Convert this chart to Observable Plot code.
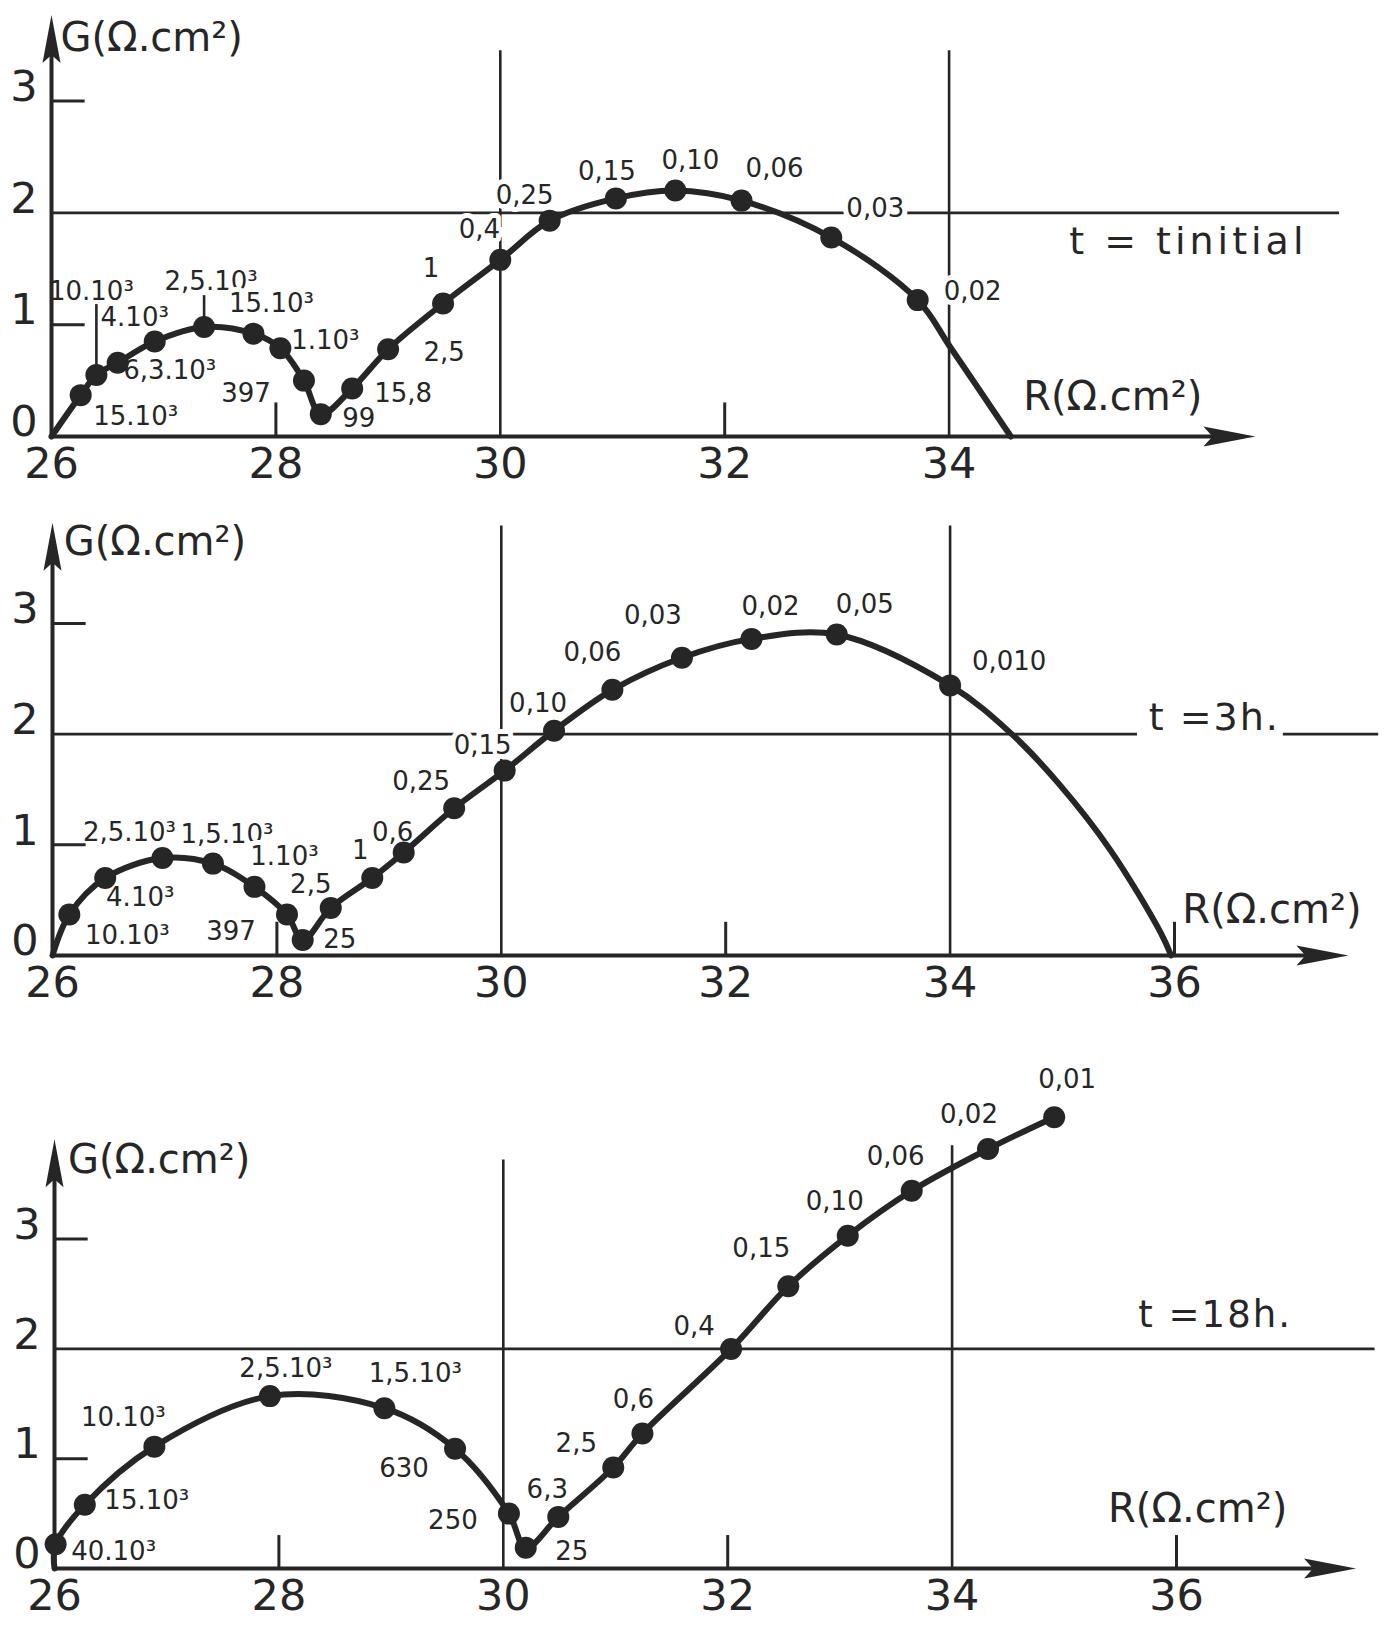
<!DOCTYPE html>
<html><head><meta charset="utf-8">
<script src="https://cdn.jsdelivr.net/npm/d3@7"></script>
<script src="https://cdn.jsdelivr.net/npm/@observablehq/plot@0.6"></script>
<style>
body{margin:0;background:#fff;}
#chart{width:1400px;}
#chart svg{display:block;}
</style></head><body><div id="chart"></div>
<script>
// ================= DATA =================
// Panel 1 : t = t initial
const p1R = [26.26, 26.40, 26.59, 26.92, 27.36, 27.80, 28.04, 28.25, 28.40, 28.68, 29.00, 29.49, 30.00, 30.44, 31.03, 31.56, 32.15, 32.95, 33.72];
const p1G = [0.37, 0.55, 0.66, 0.85, 0.98, 0.92, 0.79, 0.50, 0.20, 0.43, 0.78, 1.19, 1.58, 1.93, 2.13, 2.20, 2.11, 1.78, 1.22];
const p1F = ["15.10³", "10.10³", "6,3.10³", "4.10³", "2,5.10³", "15.10³", "1.10³", "397", "99", "15,8", "2,5", "1", "0,4", "0,25", "0,15", "0,10", "0,06", "0,03", "0,02"];
const p1HeadR = [26], p1HeadG = [0];
const p1TailR = [34.01, 34.55], p1TailG = [0.80, 0];

// Panel 2 : t = 3h
const p2R = [26.15, 26.47, 26.98, 27.43, 27.80, 28.09, 28.23, 28.48, 28.85, 29.13, 29.58, 30.03, 30.47, 30.99, 31.61, 32.23, 32.99, 34.00];
const p2G = [0.37, 0.70, 0.88, 0.83, 0.62, 0.37, 0.14, 0.43, 0.70, 0.93, 1.33, 1.67, 2.03, 2.40, 2.69, 2.86, 2.90, 2.44];
const p2F = ["10.10³", "4.10³", "2,5.10³", "1,5.10³", "1.10³", "397", "25", "2,5", "1", "0,6", "0,25", "0,15", "0,10", "0,06", "0,03", "0,02", "0,05", "0,010"];
const p2HeadR = [26], p2HeadG = [0];
const p2TailR = [34.55, 34.97, 35.43, 35.88, 35.97], p2TailG = [2.0, 1.55, 0.95, 0.2, 0];

// Panel 3 : t = 18h
const p3R = [26.01, 26.27, 26.89, 27.92, 28.94, 29.57, 30.05, 30.20, 30.49, 30.98, 31.24, 32.03, 32.54, 33.07, 33.64, 34.32, 34.91];
const p3G = [0.22, 0.58, 1.11, 1.57, 1.46, 1.09, 0.50, 0.19, 0.47, 0.92, 1.23, 2.00, 2.57, 3.03, 3.44, 3.82, 4.11];
const p3F = ["40.10³", "15.10³", "10.10³", "2,5.10³", "1,5.10³", "630", "250", "25", "6,3", "2,5", "0,6", "0,4", "0,15", "0,10", "0,06", "0,02", "0,01"];
const p3HeadR = [26], p3HeadG = [0];
const p3TailR = [], p3TailG = [];

// Tick labels
const p1XTicks = [26, 28, 30, 32, 34];
const p2XTicks = [26, 28, 30, 32, 34, 36];
const p3XTicks = [26, 28, 30, 32, 34, 36];
const yTicks = [0, 1, 2, 3];
const p1MinorX = [28, 32];
const p23MinorX = [28, 32, 36];
const minorY = [1, 3];
const gridX = [30, 34];

const axisTitleY = "G(Ω.cm²)";
const axisTitleX = "R(Ω.cm²)";
const p1Title = "t = tinitial";
const p2Title = "t =3h.";
const p3Title = "t =18h.";

// ================= LAYOUT (pixel offsets of the frequency labels) =================
const p1Dx = [55, -5, 52, -20, 7, 18, 45, -58, 38, 51, 56, -12, -21, -25, -9, 15, 33, 44, 55];
const p1Dy = [22, -83, 8, -24, -45, -30, -8, 13, 5, 5, 3, -35, -30, -25, -27, -30, -32, -29, -8];
const p2Dx = [58, 35, -33, 14, 30, -56, 37, -20, -12, -11, -33, -22, -16, -20, -29, 19, 28, 59];
const p2Dy = [21, 20, -25, -29, -30, 17, 0, -23, -27, -20, -27, -25, -27, -37, -42, -32, -30, -24];
const p3Dx = [58, 62, -31, 16, 31, -51, -56, 46, -11, -37, -9, -37, -27, -13, -16, -19, 13];
const p3Dy = [7, -4, -29, -27, -35, 20, 7, 4, -27, -24, -34, -22, -38, -34, -34, -34, -38];

const K = 112.2;
const ink = "#262626";
const font = "DejaVu Sans";

// filled dart arrowheads, tip at the symbol origin
const arrowUp = {draw(ctx) { ctx.moveTo(0, 0); ctx.lineTo(9, 48); ctx.lineTo(0, 40); ctx.lineTo(-9, 48); ctx.closePath(); }};
const arrowRight = {draw(ctx) { ctx.moveTo(0, 0); ctx.lineTo(-52, -10); ctx.lineTo(-43, 0); ctx.lineTo(-52, 10); ctx.closePath(); }};

function makePanel(c) {
  const pts = c.R.map((r, i) => ({R: r, G: c.G[i], f: c.F[i], dx: c.dx[i], dy: c.dy[i]}));
  const curve = [
    ...c.headR.map((r, i) => ({R: r, G: c.headG[i]})),
    ...pts,
    ...c.tailR.map((r, i) => ({R: r, G: c.tailG[i]}))
  ];
  const L = c.lay;
  const leaders = (c.leaders || []).map(l => ({R: pts[l.i].R, y1: pts[l.i].G, y2: pts[l.i].G + l.len}));
  const marks = [
    Plot.ruleX(L.vGrid, {x: "x", y1: 0, y2: "top", stroke: ink, strokeWidth: 2.6}),
    Plot.ruleY(L.hGrid, {y: 2, x1: "a", x2: "b", stroke: ink, strokeWidth: 2.6}),
    ...pts.map(d => Plot.text([d], {x: "R", y: "G", text: "f", dx: d.dx, dy: d.dy, fontSize: 26, fill: ink,
      stroke: "white", strokeWidth: 10, paintOrder: "stroke", fontFamily: font})),
    Plot.text([c.title], {x: L.titleX, y: L.titleY, text: d => d, textAnchor: "start", fontSize: L.titleSize, fill: ink,
      stroke: "white", strokeWidth: 12, paintOrder: "stroke", fontFamily: font}),
    Plot.ruleX(leaders, {x: "R", y1: "y1", y2: "y2", stroke: ink, strokeWidth: 2.6}),
    Plot.ruleX(c.minorX, {x: d => d, y1: 0, y2: 0.3, stroke: ink, strokeWidth: 3}),
    Plot.ruleY(minorY, {y: d => d, x1: 26, x2: 26.3, stroke: ink, strokeWidth: 3}),
    Plot.ruleY([0], {y: d => d, x1: 26, x2: L.xTip - 0.3, stroke: ink, strokeWidth: 4}),
    Plot.dot([0], {x: L.xTip, y: 0, symbol: arrowRight, fill: ink, stroke: "none", r: 5}),
    Plot.ruleX([26], {x: d => d, y1: 0, y2: L.yTip - 0.3, stroke: ink, strokeWidth: 4}),
    Plot.dot([0], {x: 26, y: L.yTip, symbol: arrowUp, fill: ink, stroke: "none", r: 5}),
    Plot.line(curve, {x: "R", y: "G", curve: "catmull-rom", stroke: ink, strokeWidth: 6}),
    Plot.dot(pts, {x: "R", y: "G", r: 11, fill: ink}),
    Plot.text(c.xTicks, {x: d => d, y: 0, dy: 28, text: d => String(d), fontSize: 43, fill: ink, fontFamily: font}),
    Plot.text(yTicks, {x: 26, y: d => d, dx: -14, dy: -14, text: d => String(d), textAnchor: "end", fontSize: 43, fill: ink, fontFamily: font}),
    Plot.text([axisTitleY], {x: L.gx, y: L.gy, text: d => d, textAnchor: "start", fontSize: 40, fill: ink, fontFamily: font}),
    Plot.text([axisTitleX], {x: L.rx, y: L.ry, text: d => d, textAnchor: "start", fontSize: 40, fill: ink, fontFamily: font})
  ];
  const svg = Plot.plot({
    width: 1400, height: L.height,
    marginLeft: L.ml, marginRight: 1400 - L.ml - 12 * K, marginTop: 0, marginBottom: L.mb,
    x: {domain: [26, 38], axis: null},
    y: {domain: [0, L.ymax], axis: null},
    style: {fontFamily: font, background: "white", overflow: "visible", color: ink},
    marks
  });
  svg.querySelectorAll("text").forEach(t => {
    if (t.textContent === c.title) t.style.letterSpacing = L.titleSpacing + "px";
  });
  return svg;
}

const root = document.getElementById("chart");
root.append(makePanel({
  R: p1R, G: p1G, F: p1F, dx: p1Dx, dy: p1Dy, headR: p1HeadR, headG: p1HeadG, tailR: p1TailR, tailG: p1TailG,
  xTicks: p1XTicks, minorX: p1MinorX, title: p1Title,
  leaders: [{i: 1, len: 0.63}, {i: 4, len: 0.28}],
  lay: {height: 500, ml: 51, mb: 64, ymax: 3.9, vGrid: gridX.map(x => ({x, top: 3.45})), hGrid: [{a: 26, b: 37.48}],
        xTip: 36.73, yTip: 3.77, titleX: 35.07, titleY: 1.74, titleSize: 38, titleSpacing: 4,
        gx: 26.08, gy: 3.56, rx: 34.66, ry: 0.35}
}));
root.append(makePanel({
  R: p2R, G: p2G, F: p2F, dx: p2Dx, dy: p2Dy, headR: p2HeadR, headG: p2HeadG, tailR: p2TailR, tailG: p2TailG,
  xTicks: p2XTicks, minorX: p23MinorX, title: p2Title,
  lay: {height: 530, ml: 52, mb: 75, ymax: 4.11, vGrid: gridX.map(x => ({x, top: 3.88})),
        hGrid: [{a: 26, b: 35.67}, {a: 36.97, b: 37.82}],
        xTip: 37.55, yTip: 3.91, titleX: 35.77, titleY: 2.15, titleSize: 38, titleSpacing: 2,
        gx: 26.1, gy: 3.73, rx: 36.07, ry: 0.41}
}));
root.append(makePanel({
  R: p3R, G: p3G, F: p3F, dx: p3Dx, dy: p3Dy, headR: p3HeadR, headG: p3HeadG, tailR: p3TailR, tailG: p3TailG,
  xTicks: p3XTicks, minorX: p23MinorX, title: p3Title,
  lay: {height: 599, ml: 54, mb: 61, ymax: 4.9, vGrid: [{x: 30, top: 3.72}, {x: 34, top: 3.85}], hGrid: [{a: 26, b: 37.77}],
        xTip: 37.6, yTip: 3.91, titleX: 35.66, titleY: 2.31, titleSize: 37, titleSpacing: 2,
        gx: 26.12, gy: 3.72, rx: 35.39, ry: 0.54}
}));
</script>
</body></html>
